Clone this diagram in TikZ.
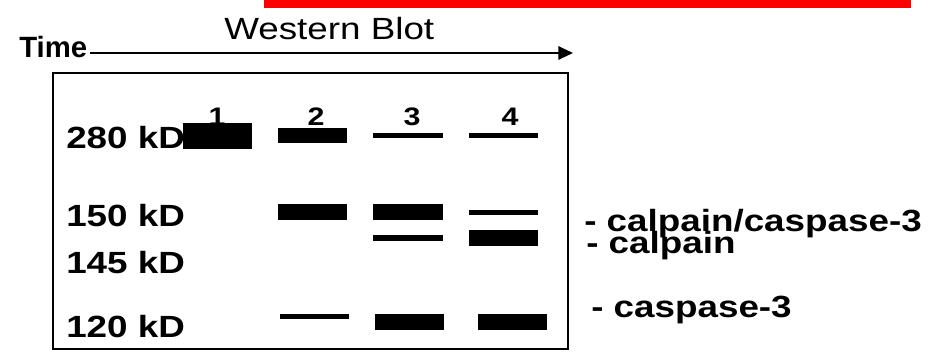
\documentclass[tikz,border=0pt]{standalone}
\usepackage{fontspec}
\setmainfont{Liberation Sans}
\newfontfamily\wideface[FakeStretch=1.2]{Liberation Sans}
\usetikzlibrary{arrows.meta}

\tikzset{
  mw/.style={font=\wideface\bfseries\fontsize{23}{27}\selectfont, anchor=base west, inner sep=0pt},
  lane/.style={font=\wideface\bfseries\fontsize{19}{22}\selectfont, anchor=base, inner sep=0pt},
  titletext/.style={font=\wideface\fontsize{23}{27}\selectfont, anchor=base west, inner sep=0pt},
  timetext/.style={font=\bfseries\fontsize{22}{26}\selectfont, anchor=base west, inner sep=0pt},
  band/.style={fill=black},
  frame/.style={draw=black, line width=1.5pt},
  timearrow/.style={line width=1.5pt, -{Triangle[length=11pt,width=10pt]}}
}

\begin{document}
\begin{tikzpicture}[x=0.75pt, y=-0.75pt]
  \useasboundingbox (0,0) rectangle (930,352);

  % red header bar
  \fill[red] (264,0) rectangle (911,8);

  % title and time axis
  \node[titletext] (title) at (224,40) {Western Blot};
  \node[timetext] (time) at (19,58) {Time};
  \coordinate (timeend) at (573,53);
  \draw[timearrow] (time.east |- timeend) ++(3,0) -- (timeend);

  % blot frame
  \draw[frame] (53,73) rectangle (568,349);

  % molecular weight markers
  \node[mw] (m280) at (66,149) {280 kD};
  \node[mw] (m150) at (66,227) {150 kD};
  \node[mw] (m145) at (66,273) {145 kD};
  \node[mw] (m120) at (66,337) {120 kD};

  % 280 kD bands
  \fill[band] (183,123) rectangle (252,149);
  \fill[band] (278,128) rectangle (347,143);
  \fill[band] (373,133) rectangle (443,138);
  \fill[band] (469,133) rectangle (538,138);

  % lane numbers
  \node[lane] (l1) at (217,126) {1};
  \node[lane] (l2) at (316,126) {2};
  \node[lane] (l3) at (412,126) {3};
  \node[lane] (l4) at (510,126) {4};

  % 150 / 145 kD bands
  \fill[band] (278,204) rectangle (347,220);
  \fill[band] (373,204) rectangle (443,220);
  \fill[band] (373,235) rectangle (443,241);
  \fill[band] (469,210) rectangle (538,215);
  \fill[band] (469,230) rectangle (538,246);

  % 120 kD bands
  \fill[band] (280,314) rectangle (349,319);
  \fill[band] (375,314) rectangle (444,330);
  \fill[band] (478,314) rectangle (547,330);

  % band identities
  \node[mw] (id1) at (584,232) {- calpain/caspase-3};
  \node[mw] (id2) at (586,253) {- calpain};
  \node[mw] (id3) at (591,317) {- caspase-3};
\end{tikzpicture}
\end{document}
